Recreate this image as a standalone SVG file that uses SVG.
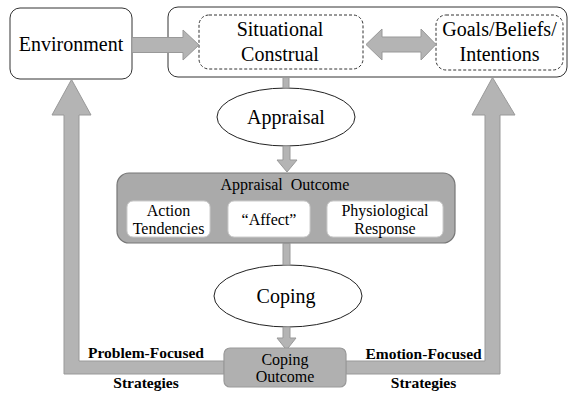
<svg xmlns="http://www.w3.org/2000/svg" width="571" height="395" viewBox="0 0 571 395">
<style>
.box{fill:#fff;stroke:#333;stroke-width:1}
.dash{fill:#fff;stroke:#333;stroke-width:1;stroke-dasharray:3,2}
.arr{fill:#b4b4b4;stroke:#999;stroke-width:1}
.gbox{fill:#aaa;stroke:#777;stroke-width:1.2}
.wbox{fill:#fff;stroke:#ccc;stroke-width:1}
.ell{fill:#fff;stroke:#222;stroke-width:1}
.t{font-family:'Liberation Serif','Times New Roman',serif;fill:#000;text-anchor:middle}
.t20{font-size:20px}
.t16{font-size:16px}
.lab{font-size:15.5px;font-weight:bold}
</style>
<rect width="571" height="395" fill="#fff"/>
<g id="container">
<rect class="box" x="168" y="7" width="399" height="70" rx="10"/>
</g>
<g id="environment">
<rect class="box" x="10" y="8" width="122" height="71" rx="10"/>
<text class="t t20" x="71" y="51">Environment</text>
</g>
<g id="situational">
<rect class="dash" x="199" y="15" width="164" height="54" rx="10"/>
<text class="t t20" x="280" y="36">Situational</text>
<text class="t t20" x="280" y="61">Construal</text>
</g>
<g id="goals">
<rect class="dash" x="436" y="15" width="127" height="55" rx="10"/>
<text class="t t20" x="499.5" y="36">Goals/Beliefs/</text>
<text class="t t20" x="499.5" y="61">Intentions</text>
</g>
<g id="appraisal">
<ellipse class="ell" cx="286" cy="117" rx="69" ry="29"/>
<text class="t t20" x="286" y="124">Appraisal</text>
</g>
<g id="appraisal-outcome">
<rect class="gbox" x="117" y="173" width="338" height="70" rx="12"/>
<text class="t t16" x="285" y="190" xml:space="preserve">Appraisal  Outcome</text>
</g>
<g id="action">
<rect class="wbox" x="127" y="201" width="83" height="36" rx="6"/>
<text class="t t16" x="168.5" y="216">Action</text>
<text class="t t16" x="168.5" y="234">Tendencies</text>
</g>
<g id="affect">
<rect class="wbox" x="228" y="201" width="82" height="36" rx="6"/>
<text class="t t16" x="269" y="225">“Affect”</text>
</g>
<g id="physiological">
<rect class="wbox" x="327" y="201" width="116" height="36" rx="6"/>
<text class="t t16" x="385" y="216">Physiological</text>
<text class="t t16" x="385" y="234">Response</text>
</g>
<g id="coping">
<ellipse class="ell" cx="288" cy="296" rx="74" ry="31"/>
<text class="t t20" x="286" y="303">Coping</text>
</g>
<g id="connectors">
<polygon class="arr" points="132,37.5 183,37.5 183,30 199,45 183,60 183,52.5 132,52.5"/>
<polygon class="arr" points="366,44.5 382,29 382,37 421,37 421,29 436,44.5 421,60 421,52 382,52 382,60"/>
<rect class="arr" x="283" y="77.5" width="6" height="10.5"/>
<polygon class="arr" points="283,146 290,146 290,160 297,160 287,172 277,160 283,160"/>
<rect class="arr" x="283" y="243.5" width="7" height="21.5"/>
<polygon class="arr" points="283,327 290,327 290,338 296,338 286.5,350 277,338 283,338"/>
<polygon class="arr" points="224,361 79,361 79,115 91,115 71.5,79.5 52,115 64,115 64,374 224,374"/>
<polygon class="arr" points="346,361 485,361 485,115 472,115 492.5,77.5 515,115 500,115 500,374 346,374"/>
</g>
<g id="coping-outcome">
<rect class="gbox" x="224" y="348" width="122" height="39" rx="6" style="fill:#b0b0b0;stroke:#999"/>
<text class="t t16" x="285" y="365">Coping</text>
<text class="t t16" x="285" y="382">Outcome</text>
</g>
<g id="labels">
<text class="t lab" x="146" y="358">Problem-Focused</text>
<text class="t lab" x="146" y="388">Strategies</text>
<text class="t lab" x="423.5" y="359">Emotion-Focused</text>
<text class="t lab" x="423.5" y="388">Strategies</text>
</g>
</svg>
